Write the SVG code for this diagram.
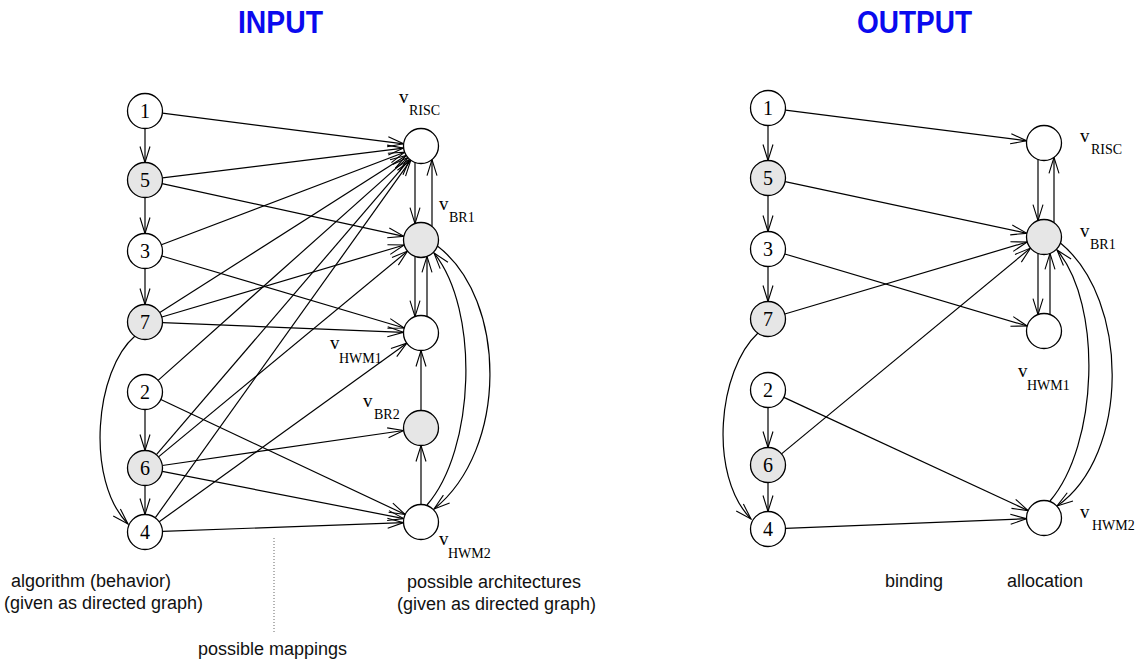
<svg xmlns="http://www.w3.org/2000/svg" width="1137" height="665" viewBox="0 0 1137 665">
<style>
.n{fill:#fff;stroke:#000;stroke-width:1.3}
.g{fill:#e6e6e6;stroke:#000;stroke-width:1.3}
.e{fill:none;stroke:#000;stroke-width:1.2;marker-end:url(#a)}
.num{font-family:"Liberation Serif",serif;font-size:20px;text-anchor:middle}
.v{font-family:"Liberation Serif",serif;font-size:19px}
.s{font-family:"Liberation Serif",serif;font-size:14px}
.t{font-family:"Liberation Sans",Arial,sans-serif;font-size:18px;fill:#111}
.h{font-family:"Liberation Sans",Arial,sans-serif;font-size:31px;font-weight:bold;fill:#0a0aee}
</style>
<defs>
<marker id="a" markerUnits="userSpaceOnUse" markerWidth="18" markerHeight="12" viewBox="-17 -6 18 12" refX="0" refY="0" orient="auto">
<path d="M-16,-5 L0,0 L-16,5" fill="none" stroke="#000" stroke-width="1.1"/>
</marker>
</defs>
<rect width="1137" height="665" fill="#fff"/>
<text class="h" x="238" y="33" textLength="85" lengthAdjust="spacingAndGlyphs">INPUT</text>
<text class="h" x="857" y="33" textLength="115" lengthAdjust="spacingAndGlyphs">OUTPUT</text>

<g id="connectors-input">
<line class="e" x1="145" y1="128.5" x2="145" y2="162.5"/>
<line class="e" x1="145" y1="197.5" x2="145" y2="233.5"/>
<line class="e" x1="145" y1="268.5" x2="145" y2="304.5"/>
<line class="e" x1="145" y1="409.5" x2="145" y2="450.5"/>
<line class="e" x1="145" y1="485.5" x2="145" y2="514.5"/>
<path class="e" d="M135,336 C95,370 85,480 128,524"/>
<line class="e" x1="162.4" y1="113.2" x2="403.6" y2="143.8"/>
<line class="e" x1="162.4" y1="177.9" x2="403.6" y2="148.1"/>
<line class="e" x1="162.1" y1="183.7" x2="403.9" y2="236.3"/>
<line class="e" x1="161.4" y1="244.8" x2="404.6" y2="152.2"/>
<line class="e" x1="161.8" y1="256.0" x2="404.2" y2="328.0"/>
<line class="e" x1="159.8" y1="312.6" x2="406.2" y2="155.4"/>
<line class="e" x1="161.8" y1="317.0" x2="404.2" y2="245.0"/>
<line class="e" x1="162.5" y1="322.7" x2="403.5" y2="332.3"/>
<line class="e" x1="158.1" y1="380.4" x2="407.9" y2="157.6"/>
<line class="e" x1="160.8" y1="399.5" x2="405.2" y2="514.5"/>
<line class="e" x1="156.4" y1="454.7" x2="409.6" y2="159.3"/>
<line class="e" x1="158.5" y1="456.9" x2="407.5" y2="251.1"/>
<line class="e" x1="162.3" y1="465.5" x2="403.7" y2="430.5"/>
<line class="e" x1="162.2" y1="471.4" x2="403.8" y2="518.6"/>
<line class="e" x1="155.2" y1="517.8" x2="410.8" y2="160.2"/>
<line class="e" x1="159.2" y1="521.8" x2="406.8" y2="343.2"/>
<line class="e" x1="162.5" y1="531.4" x2="403.5" y2="522.6"/>
<line class="e" x1="415" y1="162.4" x2="415" y2="223.6"/>
<line class="e" x1="432" y1="226.4" x2="432" y2="159.6"/>
<line class="e" x1="415" y1="256.4" x2="415" y2="316.6"/>
<line class="e" x1="427" y1="316.6" x2="427" y2="256.4"/>
<line class="e" x1="421" y1="410.5" x2="421" y2="350.5"/>
<line class="e" x1="421" y1="504.5" x2="421" y2="445.5"/>
<path class="e" d="M437.4,246 C508,300 508,450 434,509"/>
<path class="e" d="M427,505 C475,450 480,310 434,253"/>
</g>

<g id="connectors-output">
<line class="e" x1="768" y1="125.5" x2="768" y2="160.5"/>
<line class="e" x1="768" y1="195.5" x2="768" y2="231.5"/>
<line class="e" x1="768" y1="266.5" x2="768" y2="301.5"/>
<line class="e" x1="768" y1="407.5" x2="768" y2="447.5"/>
<line class="e" x1="768" y1="482.5" x2="768" y2="511.5"/>
<path class="e" d="M758,333 C718,370 708,475 751,519"/>
<line class="e" x1="785.4" y1="110.2" x2="1026.6" y2="140.8"/>
<line class="e" x1="785.1" y1="181.7" x2="1026.9" y2="233.3"/>
<line class="e" x1="784.8" y1="254.0" x2="1027.2" y2="326.0"/>
<line class="e" x1="784.8" y1="314.0" x2="1027.2" y2="242.0"/>
<line class="e" x1="781.5" y1="453.9" x2="1030.5" y2="248.1"/>
<line class="e" x1="783.9" y1="397.4" x2="1028.1" y2="510.6"/>
<line class="e" x1="785.5" y1="528.3" x2="1026.5" y2="518.7"/>
<line class="e" x1="1038" y1="159.4" x2="1038" y2="220.6"/>
<line class="e" x1="1054" y1="222.6" x2="1054" y2="157.4"/>
<line class="e" x1="1038" y1="253.4" x2="1038" y2="314.6"/>
<line class="e" x1="1050" y1="314.6" x2="1050" y2="253.4"/>
<path class="e" d="M1060.4,243 C1130,300 1130,455 1057,506"/>
<path class="e" d="M1050,501 C1098,445 1103,305 1057,250"/>
</g>

<g id="in-1"><circle class="n" cx="145" cy="111" r="17.5"/><text class="num" x="145" y="118">1</text></g>
<g id="in-5"><circle class="g" cx="145" cy="180" r="17.5"/><text class="num" x="145" y="187">5</text></g>
<g id="in-3"><circle class="n" cx="145" cy="251" r="17.5"/><text class="num" x="145" y="258">3</text></g>
<g id="in-7"><circle class="g" cx="145" cy="322" r="17.5"/><text class="num" x="145" y="329">7</text></g>
<g id="in-2"><circle class="n" cx="145" cy="392" r="17.5"/><text class="num" x="145" y="399">2</text></g>
<g id="in-6"><circle class="g" cx="145" cy="468" r="17.5"/><text class="num" x="145" y="475">6</text></g>
<g id="in-4"><circle class="n" cx="145" cy="532" r="17.5"/><text class="num" x="145" y="539">4</text></g>

<g id="in-vRISC"><circle class="n" cx="421" cy="146" r="17.5"/><text class="v" x="399" y="103">v</text><text class="s" x="409" y="115">RISC</text></g>
<g id="in-vBR1"><circle class="g" cx="421" cy="240" r="17.5"/><text class="v" x="439" y="210">v</text><text class="s" x="449" y="222">BR1</text></g>
<g id="in-vHWM1"><circle class="n" cx="421" cy="333" r="17.5"/><text class="v" x="330" y="349">v</text><text class="s" x="339" y="363">HWM1</text></g>
<g id="in-vBR2"><circle class="g" cx="421" cy="428" r="17.5"/><text class="v" x="363" y="407">v</text><text class="s" x="374" y="419">BR2</text></g>
<g id="in-vHWM2"><circle class="n" cx="421" cy="522" r="17.5"/><text class="v" x="439" y="545">v</text><text class="s" x="448" y="558">HWM2</text></g>

<g id="out-1"><circle class="n" cx="768" cy="108" r="17.5"/><text class="num" x="768" y="115">1</text></g>
<g id="out-5"><circle class="g" cx="768" cy="178" r="17.5"/><text class="num" x="768" y="185">5</text></g>
<g id="out-3"><circle class="n" cx="768" cy="249" r="17.5"/><text class="num" x="768" y="256">3</text></g>
<g id="out-7"><circle class="g" cx="768" cy="319" r="17.5"/><text class="num" x="768" y="326">7</text></g>
<g id="out-2"><circle class="n" cx="768" cy="390" r="17.5"/><text class="num" x="768" y="397">2</text></g>
<g id="out-6"><circle class="g" cx="768" cy="465" r="17.5"/><text class="num" x="768" y="472">6</text></g>
<g id="out-4"><circle class="n" cx="768" cy="529" r="17.5"/><text class="num" x="768" y="536">4</text></g>

<g id="out-vRISC"><circle class="n" cx="1044" cy="143" r="17.5"/><text class="v" x="1080" y="142">v</text><text class="s" x="1091" y="154">RISC</text></g>
<g id="out-vBR1"><circle class="g" cx="1044" cy="237" r="17.5"/><text class="v" x="1080" y="237">v</text><text class="s" x="1090" y="249">BR1</text></g>
<g id="out-vHWM1"><circle class="n" cx="1044" cy="331" r="17.5"/><text class="v" x="1018" y="377">v</text><text class="s" x="1027" y="390">HWM1</text></g>
<g id="out-vHWM2"><circle class="n" cx="1044" cy="518" r="17.5"/><text class="v" x="1080" y="518">v</text><text class="s" x="1092" y="530">HWM2</text></g>

<line x1="274" y1="538" x2="274" y2="632" stroke="#666" stroke-width="1" stroke-dasharray="1,2"/>
<text class="t" x="11" y="587">algorithm (behavior)</text>
<text class="t" x="4" y="609">(given as directed graph)</text>
<text class="t" x="407" y="588">possible architectures</text>
<text class="t" x="397" y="610">(given as directed graph)</text>
<text class="t" x="198" y="655">possible mappings</text>
<text class="t" x="885" y="587">binding</text>
<text class="t" x="1007" y="587">allocation</text>
</svg>
